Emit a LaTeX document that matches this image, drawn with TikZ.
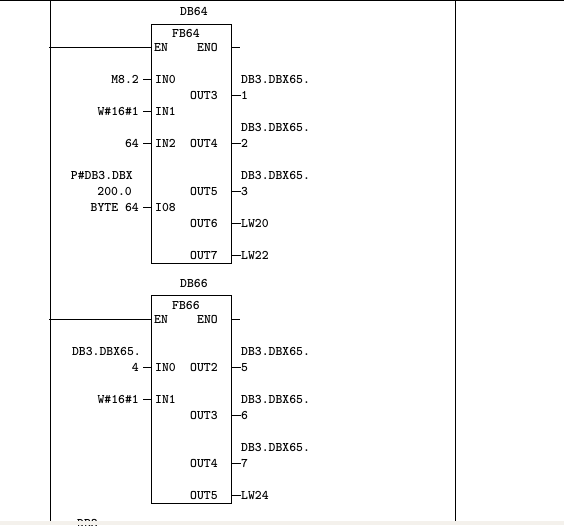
\documentclass[tikz,border=0pt]{standalone}
\usepackage{xcolor}
\usepackage{tikz}
\usetikzlibrary{positioning,calc}
\definecolor{strip}{HTML}{F4F1EC}
\tikzset{
  fb/.style   ={draw, rectangle, line width=1pt, fill=white, inner sep=0pt, minimum width=80pt},
  txt/.style  ={font=\fontsize{13.1}{15}\selectfont\ttfamily\bfseries, inner ysep=0pt, inner xsep=0pt, text height=8pt, text depth=0pt},
  inl/.style  ={txt, anchor=east, inner xsep=4pt},
  outl/.style ={txt, anchor=west, inner xsep=1pt},
  pin/.style  ={txt, anchor=west},
  wire/.style ={line width=1pt, line cap=rect},
  rail/.style ={line width=1pt},
}

\begin{document}
\begin{tikzpicture}[x=1pt,y=-1pt]
\useasboundingbox (0,0) rectangle (564,525);
\fill[white] (0,0) rectangle (564,525);
\coordinate (topl) at (0,0.5);
\coordinate (topr) at (564,0.5);
\coordinate (lrail0) at (50.5,0);
\coordinate (lrail1) at (50.5,521);
\coordinate (rrail0) at (455.5,0);
\coordinate (rrail1) at (455.5,521);
\draw[rail] (topl) -- (topr);
\draw[rail] (lrail0) -- (lrail1);
\draw[rail] (rrail0) -- (rrail1);
% first block
\node[fb, minimum height=239pt] (fb64) at (191.5,143.5) {};
\node[txt, anchor=west] (db64) at (180,11) {DB64};
\node[txt, anchor=west] (fb64t) at (172,33) {FB64};
\node[pin] (en64) at (154,47) {EN};
\node[pin] (eno64) at (197,47) {ENO};
\coordinate (enoend64) at (239,47.5);
\draw[wire] (lrail0 |- en64.west) ++(-1,0.5) coordinate (enin64) -- (enin64 -| fb64.west);
\draw[wire] (fb64.east |- enoend64) -- (enoend64);
\node[pin] (in064) at (155,79) {IN0};
\node[pin] (in164) at (155,111) {IN1};
\node[pin] (in264) at (155,143) {IN2};
\node[pin] (io864) at (155,207) {I08};
\node[inl] (m82) at (143,79) {M8.2};
\node[inl] (w161) at (143,111) {W\#16\#1};
\node[inl] (v64) at (143,143) {64};
\node[txt, anchor=east] (ptr1) at (133,175) {P\#DB3.DBX};
\node[txt, anchor=east] (ptr2) at (132,191) {200.0};
\node[inl] (ptr3) at (143,207) {BYTE 64};
\draw[wire] (m82.east) ++(0,0.5) coordinate (a) -- (a -| fb64.west);
\draw[wire] (w161.east) ++(0,0.5) coordinate (a) -- (a -| fb64.west);
\draw[wire] (v64.east) ++(0,0.5) coordinate (a) -- (a -| fb64.west);
\draw[wire] (ptr3.east) ++(0,0.5) coordinate (a) -- (a -| fb64.west);
\node[pin] (o364) at (190,95) {OUT3};
\node[pin] (o464) at (190,143) {OUT4};
\node[pin] (o564) at (190,191) {OUT5};
\node[pin] (o664) at (190,223) {OUT6};
\node[pin] (o764) at (190,255) {OUT7};
\node[txt, anchor=west] (h1) at (241,79) {DB3.DBX65.};
\node[txt, anchor=west] (h2) at (241,127) {DB3.DBX65.};
\node[txt, anchor=west] (h3) at (241,175) {DB3.DBX65.};
\node[outl] (x1) at (240,95) {1};
\node[outl] (x2) at (240,143) {2};
\node[outl] (x3) at (240,191) {3};
\node[outl] (lw20) at (240,223) {LW20};
\node[outl] (lw22) at (240,255) {LW22};
\draw[wire] (x1.west) ++(0,0.5) coordinate (a) -- (a -| fb64.east);
\draw[wire] (x2.west) ++(0,0.5) coordinate (a) -- (a -| fb64.east);
\draw[wire] (x3.west) ++(0,0.5) coordinate (a) -- (a -| fb64.east);
\draw[wire] (lw20.west) ++(0,0.5) coordinate (a) -- (a -| fb64.east);
\draw[wire] (lw22.west) ++(0,0.5) coordinate (a) -- (a -| fb64.east);
% second block
\node[fb, minimum height=208pt] (fb66) at (191.5,399.5) {};
\node[txt, anchor=west] (db66) at (180,283) {DB66};
\node[txt, anchor=west] (fb66t) at (172,305) {FB66};
\node[pin] (en66) at (154,319) {EN};
\node[pin] (eno66) at (197,319) {ENO};
\coordinate (enoend66) at (239,319.5);
\draw[wire] (lrail0 |- en66.west) ++(-1,0.5) coordinate (enin66) -- (enin66 -| fb66.west);
\draw[wire] (fb66.east |- enoend66) -- (enoend66);
\node[pin] (in066) at (155,367) {IN0};
\node[pin] (in166) at (155,399) {IN1};
\node[txt, anchor=east] (lh1) at (141,351) {DB3.DBX65.};
\node[inl] (x4) at (143,367) {4};
\node[inl] (w162) at (143,399) {W\#16\#1};
\draw[wire] (x4.east) ++(0,0.5) coordinate (a) -- (a -| fb66.west);
\draw[wire] (w162.east) ++(0,0.5) coordinate (a) -- (a -| fb66.west);
\node[pin] (o266) at (190,367) {OUT2};
\node[pin] (o366) at (190,415) {OUT3};
\node[pin] (o466) at (190,463) {OUT4};
\node[pin] (o566) at (190,495) {OUT5};
\node[txt, anchor=west] (h5) at (241,351) {DB3.DBX65.};
\node[txt, anchor=west] (h6) at (241,399) {DB3.DBX65.};
\node[txt, anchor=west] (h7) at (241,447) {DB3.DBX65.};
\node[outl] (x5) at (240,367) {5};
\node[outl] (x6) at (240,415) {6};
\node[outl] (x7) at (240,463) {7};
\node[outl] (lw24) at (240,495) {LW24};
\draw[wire] (x5.west) ++(0,0.5) coordinate (a) -- (a -| fb66.east);
\draw[wire] (x6.west) ++(0,0.5) coordinate (a) -- (a -| fb66.east);
\draw[wire] (x7.west) ++(0,0.5) coordinate (a) -- (a -| fb66.east);
\draw[wire] (lw24.west) ++(0,0.5) coordinate (a) -- (a -| fb66.east);
% next block is cut off by the window edge
\node[txt, anchor=west] (db3) at (77,523) {DB3};
\fill[strip] (0,521) rectangle (564,525);
\end{tikzpicture}
\end{document}
